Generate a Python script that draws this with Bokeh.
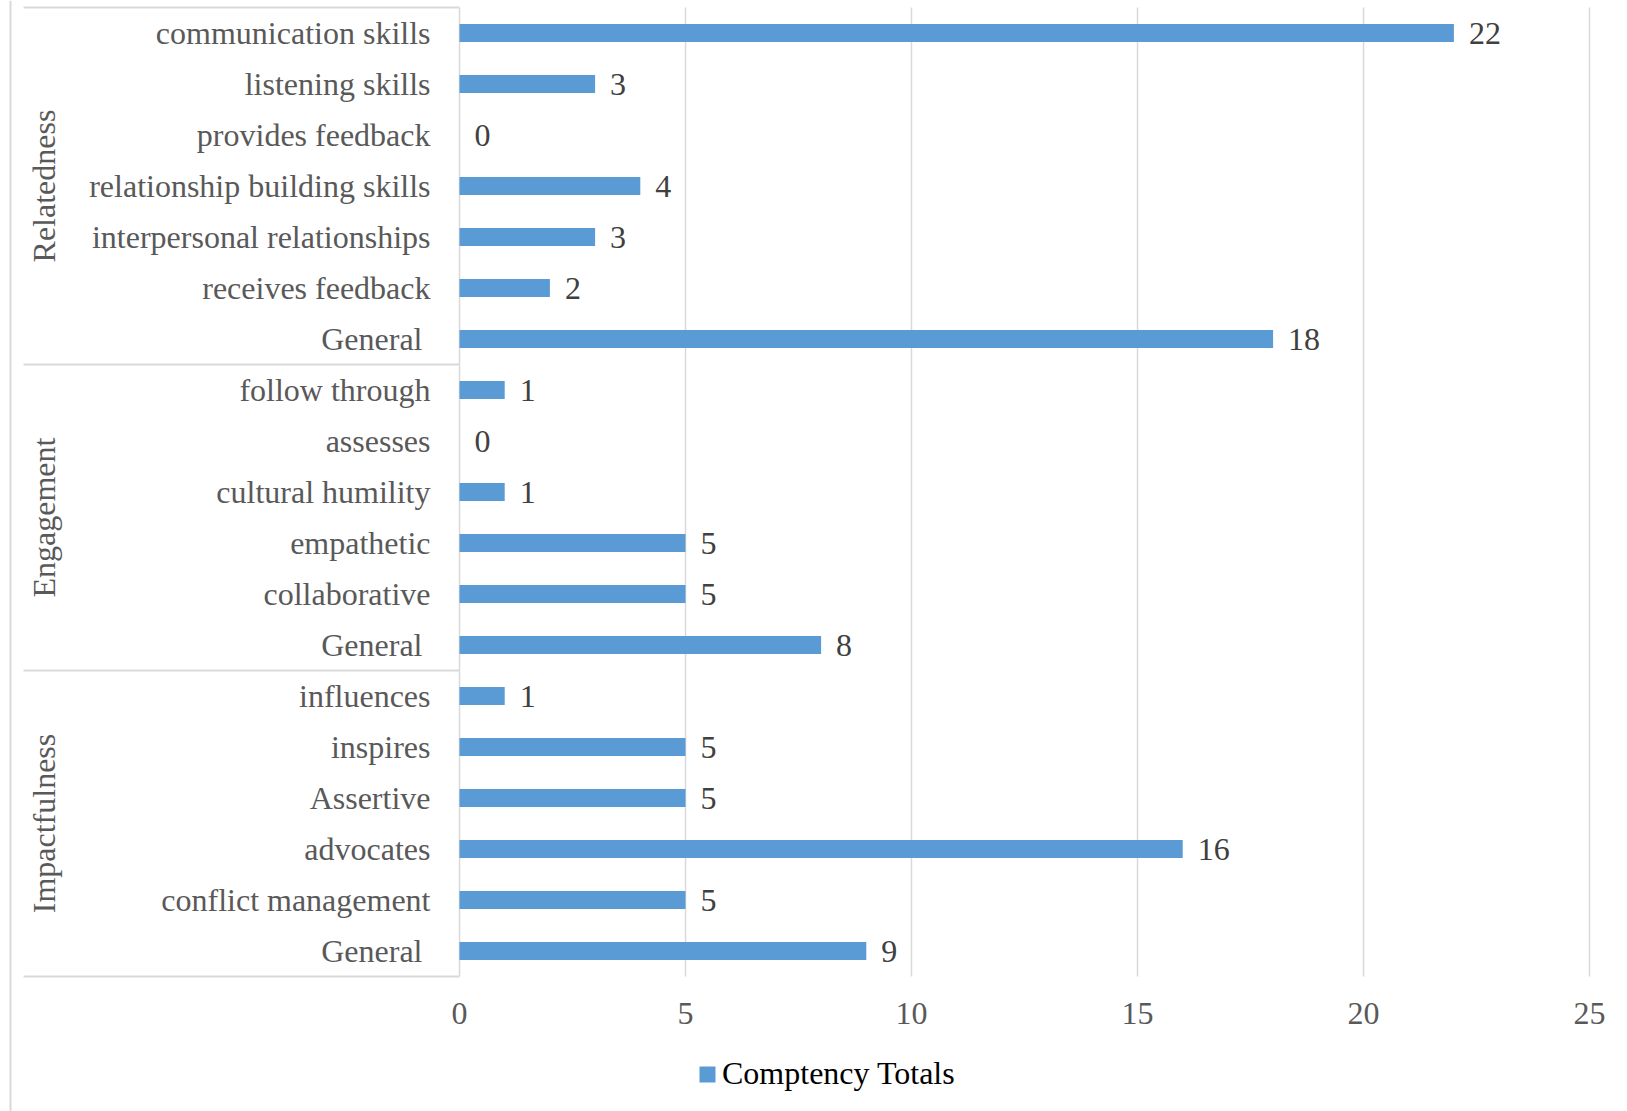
from bokeh.plotting import figure
from bokeh.models import (ColumnDataSource, Range1d, LinearAxis, FixedTicker,
                          Legend, LegendItem)
from bokeh.embed import file_html
from bokeh.resources import INLINE

# ---- data -------------------------------------------------------------
groups = ["Relatedness", "Engagement", "Impactfulness"]
group_items = [
    ["communication skills", "listening skills", "provides feedback",
     "relationship building skills", "interpersonal relationships",
     "receives feedback", "General"],
    ["follow through", "assesses", "cultural humility", "empathetic",
     "collaborative", "General"],
    ["influences", "inspires", "Assertive", "advocates",
     "conflict management", "General"],
]
group_totals = [
    [22, 3, 0, 4, 3, 2, 18],
    [1, 0, 1, 5, 5, 8],
    [1, 5, 5, 16, 5, 9],
]
x_ticks = [0, 5, 10, 15, 20, 25]
series_name = "Comptency Totals"

# ---- layout constants (pixels) ----------------------------------------
W, H = 1627, 1111
ZERO_PX = 459          # horizontal pixel of value 0
PX_PER_UNIT = 45.2     # pixels per value unit
TOP_PX = 7             # top of the first row
ROW_PX = 51            # height of one category row
BOX_LEFT_PX = 23       # left end of the group separator lines
OUTER_PX = 10          # outer frame line on the left

BLUE = "#5B9BD5"
GRID = "#D9D9D9"
LABEL_GREY = "#595959"
VALUE_GREY = "#404040"
FONT = "Liberation Serif"
FS = "32px"


def px_to_x(px):
    return (px - ZERO_PX) / PX_PER_UNIT


# flatten rows
labels, values, rows, is_general = [], [], [], []
group_bounds = [0]
for items, vals in zip(group_items, group_totals):
    for name, v in zip(items, vals):
        rows.append(len(labels) + 0.5)
        labels.append(name)
        values.append(v)
        is_general.append(name == "General")
    group_bounds.append(len(labels))
n_rows = len(labels)

src = ColumnDataSource(dict(
    y=rows, value=values, label=labels,
    value_text=[str(v) for v in values],
    label_offset=[-37 if g else -29 for g in is_general],
))

x_range = Range1d(px_to_x(0), px_to_x(W))
y_range = Range1d((H - TOP_PX) / ROW_PX, -TOP_PX / ROW_PX)

p = figure(width=W, height=H, x_range=x_range, y_range=y_range,
           output_backend="svg", toolbar_location=None,
           x_axis_location=None, y_axis_location=None,
           min_border=0, min_border_left=0, min_border_right=0,
           min_border_top=0, min_border_bottom=0,
           background_fill_color="white", border_fill_color="white")
p.outline_line_color = None
p.xgrid.visible = False
p.ygrid.visible = False

# vertical gridlines inside the plotting area
p.segment(x0=x_ticks, x1=x_ticks, y0=[0] * len(x_ticks),
          y1=[n_rows] * len(x_ticks), line_color=GRID, line_width=1.5)

# group separator lines in the label area
sep_y = group_bounds
p.segment(x0=[px_to_x(BOX_LEFT_PX)] * len(sep_y), x1=[0] * len(sep_y),
          y0=sep_y, y1=sep_y, line_color=GRID, line_width=2)

# outer left frame line
p.segment(x0=[px_to_x(OUTER_PX)], x1=[px_to_x(OUTER_PX)],
          y0=[y_range.end], y1=[y_range.start], line_color=GRID, line_width=2)

# bars
bars = p.hbar(y="y", right="value", left=0, height=0.35, source=src,
              fill_color=BLUE, line_color=None)

# value labels
p.text(x="value", y="y", text="value_text", source=src, x_offset=15,
       text_align="left", text_baseline="middle",
       text_font=FONT, text_font_size=FS, text_color=VALUE_GREY)

# category labels
p.text(x=0, y="y", text="label", source=src, x_offset="label_offset",
       text_align="right", text_baseline="middle",
       text_font=FONT, text_font_size=FS, text_color=LABEL_GREY)

# rotated group labels
group_centers = [(a + b) / 2 for a, b in zip(group_bounds[:-1], group_bounds[1:])]
p.text(x=[px_to_x(43)] * len(groups), y=group_centers, text=groups,
       angle=3.14159265 / 2, text_align="center", text_baseline="middle",
       text_font=FONT, text_font_size=FS, text_color=LABEL_GREY)

# value axis drawn at the bottom of the rows
xaxis = LinearAxis(fixed_location=n_rows, ticker=FixedTicker(ticks=x_ticks))
xaxis.axis_line_color = None
xaxis.major_tick_line_color = None
xaxis.minor_tick_line_color = None
xaxis.major_label_standoff = 20
xaxis.major_label_text_font = FONT
xaxis.major_label_text_font_size = FS
xaxis.major_label_text_color = LABEL_GREY
p.add_layout(xaxis, "below")

legend = Legend(items=[LegendItem(label=series_name, renderers=[bars])],
                location=(697, 19), orientation="horizontal",
                border_line_color=None, background_fill_alpha=0,
                padding=0, margin=0, spacing=0,
                glyph_width=20, glyph_height=20, label_standoff=5,
                label_height=20,
                label_text_font=FONT, label_text_font_size=FS,
                label_text_color="black")
p.add_layout(legend)

open("out.html", "w").write(file_html(p, INLINE))
